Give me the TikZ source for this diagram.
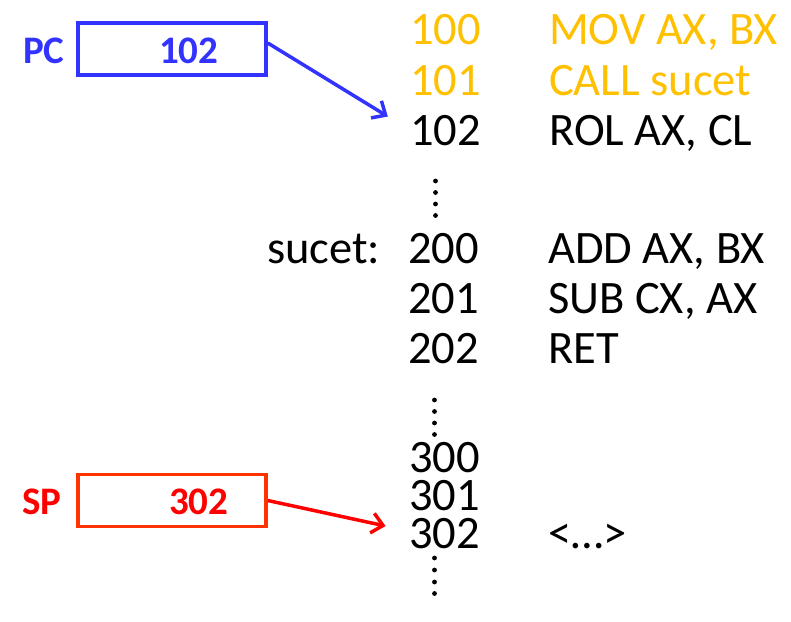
\documentclass[tikz,border=0pt]{standalone}
\usepackage{fontspec}
\setmainfont{Carlito}
\usetikzlibrary{arrows.meta}
\definecolor{gold}{HTML}{FFC000}
\definecolor{pcblue}{HTML}{3333FF}
\definecolor{spred}{HTML}{FF0000}
\definecolor{spedge}{HTML}{FF3300}
\tikzset{
  mem/.style={anchor=base west, inner sep=0pt, font=\fontsize{46.5}{46.5}\selectfont},
  reglbl/.style={anchor=base west, inner sep=0pt, font=\fontsize{39}{39}\selectfont\bfseries},
  regbox/.style={draw, line width=3.5pt, minimum width=188pt, minimum height=52pt, inner sep=0pt},
  ptr/.style={line width=3.5pt, -{Straight Barb[length=11pt,width=20pt,line width=3.5pt]}},
  dot/.style={circle, fill, inner sep=0pt, minimum size=4.8pt}
}
\begin{document}
\begin{tikzpicture}[x=1pt,y=-1pt]
\useasboundingbox (0,0) rectangle (791,621);
% memory listing
\node[mem, text=gold] (a100) at (410,44) {100};
\node[mem, text=gold] (i100) at (549,44) {MOV AX, BX};
\node[mem, text=gold] (a101) at (410,95) {101};
\node[mem, text=gold] (i101) at (549,95) {CALL sucet};
\node[mem] (a102) at (410,145) {102};
\node[mem] (i102) at (549,145) {ROL AX, CL};
\node[mem] (lbl) at (267,263) {sucet:};
\node[mem] (a200) at (408,263) {200};
\node[mem] (i200) at (548,263) {ADD AX, BX};
\node[mem] (a201) at (408,313) {201};
\node[mem] (i201) at (548,313) {SUB CX, AX};
\node[mem] (a202) at (408,363) {202};
\node[mem] (i202) at (548,363) {RET};
\node[mem] (a300) at (409,472) {300};
\node[mem] (a301) at (409,510) {301};
\node[mem] (a302) at (409,548) {302};
\node[mem] (i302) at (548,548) {<…>};
% vertical dots
\foreach \y in {181,192.5,204,215.5} \node[dot] at (435.5,\y) {};
\foreach \y in {400,411.5,423,434.5} \node[dot] at (434.5,\y) {};
\foreach \y in {558,570,582,593.5} \node[dot] at (434.5,\y) {};
% PC register
\node[reglbl, text=pcblue] (pclbl) at (23,63) {PC};
\node[regbox, draw=pcblue] (pcbox) at (172,49) {};
\node[reglbl, text=pcblue] (pcval) at (159,63) {102};
\draw[ptr, pcblue, shorten >=26pt] ([yshift=6pt]pcbox.east) -- (a102.west);
% SP register
\node[reglbl, text=spred] (splbl) at (22,514) {SP};
\node[regbox, draw=spedge] (spbox) at (172,500.5) {};
\node[reglbl, text=spred] (spval) at (169,514) {302};
\draw[ptr, spred, shorten >=24pt] (spbox.east) -- ([yshift=2pt]a302.west);
\end{tikzpicture}
\end{document}
